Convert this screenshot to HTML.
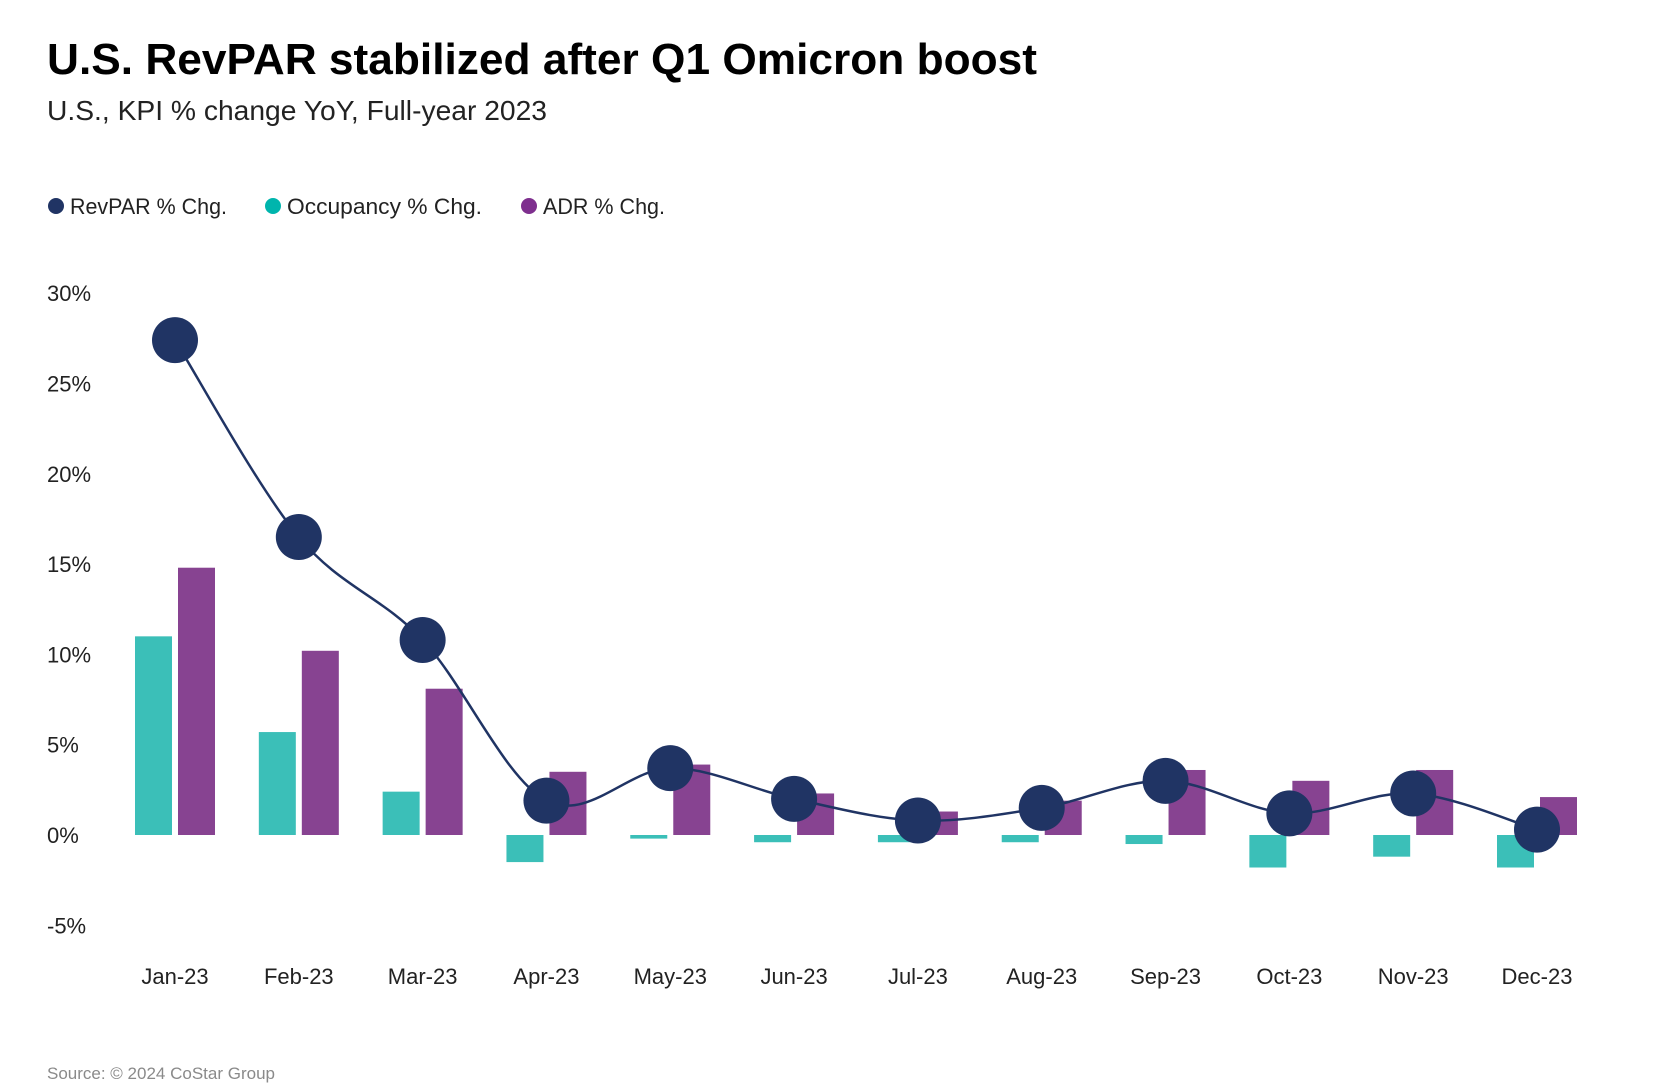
<!DOCTYPE html>
<html><head><meta charset="utf-8"><style>
html,body{margin:0;padding:0;background:#fff;}
svg{display:block;font-family:"Liberation Sans",sans-serif;}
</style></head><body>
<svg id="chart" width="1654" height="1090" viewBox="0 0 1654 1090">
<text x="47" y="74" font-size="44" font-weight="bold" fill="#000" textLength="990" lengthAdjust="spacingAndGlyphs">U.S. RevPAR stabilized after Q1 Omicron boost</text>
<text x="47" y="120" font-size="28" fill="#222" textLength="500" lengthAdjust="spacingAndGlyphs">U.S., KPI % change YoY, Full-year 2023</text>
<g>
<g><circle cx="56" cy="206" r="8" fill="#203464"/><text x="70" y="214" font-size="22" fill="#222" textLength="157" lengthAdjust="spacingAndGlyphs">RevPAR % Chg.</text></g>
<g><circle cx="273" cy="206" r="8" fill="#00b5ad"/><text x="287" y="214" font-size="22" fill="#222" textLength="195" lengthAdjust="spacingAndGlyphs">Occupancy % Chg.</text></g>
<g><circle cx="529" cy="206" r="8" fill="#7e2f8e"/><text x="543" y="214" font-size="22" fill="#222" textLength="122" lengthAdjust="spacingAndGlyphs">ADR % Chg.</text></g>
</g>
<g id="plot"></g>
<text x="47" y="1079" font-size="17" fill="#8a8a8a">Source: © 2024 CoStar Group</text>
</svg>
<script>
const categories = ["Jan-23","Feb-23","Mar-23","Apr-23","May-23","Jun-23","Jul-23","Aug-23","Sep-23","Oct-23","Nov-23","Dec-23"];
const revpar = [27.4,16.5,10.8,1.9,3.7,2.0,0.8,1.5,3.0,1.2,2.3,0.3];
const occupancy = [11.0,5.7,2.4,-1.5,-0.2,-0.4,-0.4,-0.4,-0.5,-1.8,-1.2,-1.8];
const adr = [14.8,10.2,8.1,3.5,3.9,2.3,1.3,1.9,3.6,3.0,3.6,2.1];
const yTicks = [-5,0,5,10,15,20,25,30];
const yTickLabels = ["-5%","0%","5%","10%","15%","20%","25%","30%"];

const NS="http://www.w3.org/2000/svg";
const plot=document.getElementById('plot');
const x0=175, x1=1537;
const xs=i=>x0+(x1-x0)*i/(categories.length-1);
const ys=v=>835-(v/5)*90.3;
function mk(tag,attrs){const e=document.createElementNS(NS,tag);for(const k in attrs)e.setAttribute(k,attrs[k]);plot.appendChild(e);return e;}

yTicks.forEach((t,i)=>{
  const e=mk('text',{x:47,y:ys(t)+8,'font-size':22,fill:'#222'});
  e.textContent=yTickLabels[i];
  
  
});
categories.forEach((c,i)=>{
  const e=mk('text',{x:xs(i),y:984,'font-size':22,fill:'#222','text-anchor':'middle'});
  e.textContent=c;
  
  
});
const bw=37;
categories.forEach((c,i)=>{
  const cx=xs(i);
  const o=occupancy[i];
  const b1=mk('rect',{x:cx-3-bw,y:Math.min(ys(o),ys(0)),width:bw,height:Math.abs(ys(o)-ys(0)),fill:'#3bbfb8'});
  
  
  const a=adr[i];
  const b2=mk('rect',{x:cx+3,y:Math.min(ys(a),ys(0)),width:bw,height:Math.abs(ys(a)-ys(0)),fill:'#874391'});
  
  
});
const pts=revpar.map((v,i)=>[xs(i),ys(v)]);
let d=`M${pts[0][0]},${pts[0][1]}`;
for(let i=0;i<pts.length-1;i++){
  const p0=pts[Math.max(i-1,0)],p1=pts[i],p2=pts[i+1],p3=pts[Math.min(i+2,pts.length-1)];
  const c1=[p1[0]+(p2[0]-p0[0])/6, p1[1]+(p2[1]-p0[1])/6];
  const c2=[p2[0]-(p3[0]-p1[0])/6, p2[1]-(p3[1]-p1[1])/6];
  d+=` C${c1[0]},${c1[1]} ${c2[0]},${c2[1]} ${p2[0]},${p2[1]}`;
}
const line=mk('path',{d:d,fill:'none',stroke:'#203464','stroke-width':2.5});


pts.forEach(p=>{
  const c=mk('circle',{cx:p[0],cy:p[1],r:23,fill:'#203464'});
  
  
});
</script>
</body></html>
